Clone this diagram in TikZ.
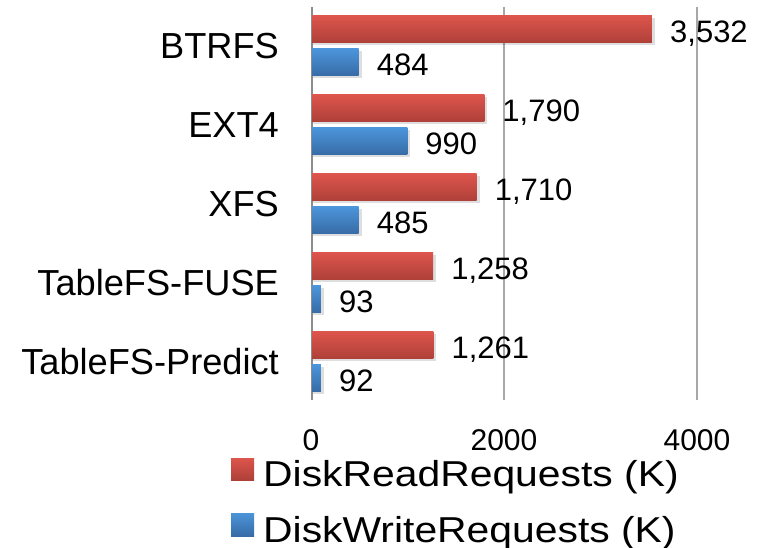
\documentclass[tikz,border=0pt]{standalone}
\usepackage{fontspec}
\setmainfont{Liberation Sans}
\definecolor{redtop}{RGB}{221,85,76}
\definecolor{redbot}{RGB}{174,64,57}
\definecolor{bluetop}{RGB}{76,149,218}
\definecolor{bluebot}{RGB}{55,107,166}
\definecolor{gridgray}{RGB}{168,168,168}
\definecolor{axisgray}{RGB}{140,140,140}
\begin{document}
\begin{tikzpicture}[x=1pt,y=-1pt,
  catlabel/.style={anchor=base east,inner sep=0pt,font=\fontsize{36.2}{40}\selectfont},
  vallabel/.style={anchor=base west,inner sep=0pt,font=\fontsize{31}{36}\selectfont},
  ticklabel/.style={anchor=base,inner sep=0pt,font=\fontsize{30}{36}\selectfont},
  legendlabel/.style={anchor=base west,inner sep=0pt,font=\fontsize{36}{40}\selectfont},
  gridline/.style={draw=gridgray,line width=1.5pt},
  redbar/.style={top color=redtop,bottom color=redbot},
  bluebar/.style={top color=bluetop,bottom color=bluebot},
  barshadow/.style={fill=black,opacity=0.13}]
\useasboundingbox (0,0) rectangle (761,548);
\fill[white] (0,0) rectangle (761,548);
% grid
\foreach \gx in {504,697} \draw[gridline] (\gx,7) -- (\gx,400);
\draw[gridline,draw=axisgray] (312,7) -- (312,400);
% bars
\foreach \i/\r/\w/\rl/\wl/\cname in {0/3532/484/{3,532}/484/BTRFS,
    1/1790/990/{1,790}/990/EXT4,
    2/1710/485/{1,710}/485/XFS,
    3/1258/93/{1,258}/93/TableFS-FUSE,
    4/1261/92/{1,261}/92/TableFS-Predict}{
  \pgfmathsetmacro{\c}{46+78.9*\i}
  \pgfmathsetmacro{\re}{312+0.09625*\r}
  \pgfmathsetmacro{\we}{312+0.09625*\w}
  \fill[barshadow] (313,\c-28) rectangle (\re+3,\c-0.5);
  \fill[barshadow] (313,\c+5) rectangle (\we+3,\c+32.5);
  \shade[redbar] (312,\c-30) rectangle (\re,\c-3);
  \shade[bluebar] (312,\c+3) rectangle (\we,\c+30);
  \node[vallabel] (rv\i) at (\re+18,\c-3) {\rl};
  \node[vallabel] (wv\i) at (\we+18,\c+30) {\wl};
  \node[catlabel] (cat\i) at (279,\c+13) {\cname};
}
% ticks
\node[ticklabel] (t0) at (311,450) {0};
\node[ticklabel] (t1) at (504,450) {2000};
\node[ticklabel] (t2) at (697,450) {4000};
% legend
\shade[redbar] (231,458) rectangle (254,480);
\shade[bluebar] (231,513) rectangle (254,536);
\node[legendlabel] (lr) at (263,486) {\scalebox{1.135}[1]{DiskReadRequests (K)}};
\node[legendlabel] (lw) at (263,542) {\scalebox{1.135}[1]{DiskWriteRequests (K)}};
\end{tikzpicture}
\end{document}
